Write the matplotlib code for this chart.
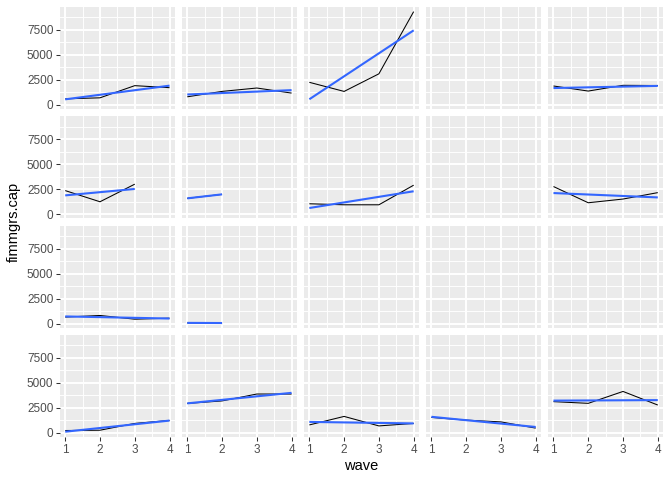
import numpy as np
import matplotlib
matplotlib.use("Agg")
import matplotlib.pyplot as plt
from matplotlib.ticker import FixedLocator

plt.rcParams['font.family'] = ['Liberation Sans', 'DejaVu Sans']

nan = np.nan
waves = [1, 2, 3, 4]

# one named series per facet (row-major, 4 rows x 5 columns); None = empty facet
g01 = [608, 710, 1927, 1724]
g02 = [811, 1352, 1690, 1183]
g03 = [2260, 1350, 3110, 9330]
g04 = None
g05 = [1893, 1386, 1960, 1940]
g06 = [2366, 1250, 3008, nan]
g07 = [1590, 1990, nan, nan]
g08 = [1048, 946, 946, 2907]
g09 = None
g10 = [2772, 1149, 1521, 2163]
g11 = [650, 811, 440, 540]
g12 = [70, 55, nan, nan]
g13 = None
g14 = None
g15 = None
g16 = [240, 270, 950, 1250]
g17 = [2950, 3200, 3890, 3890]
g18 = [800, 1650, 700, 950]
g19 = [1550, 1280, 1100, 480]
g20 = [3128, 2958, 4148, 2788]

panels = [g01, g02, g03, g04, g05, g06, g07, g08, g09, g10,
          g11, g12, g13, g14, g15, g16, g17, g18, g19, g20]

y_ticks = [0, 2500, 5000, 7500]
x_ticks = [1, 2, 3, 4]

W, H = 672, 480
fig = plt.figure(figsize=(W / 100, H / 100), dpi=100)

left, right = 60, 663
top, bottom = 7, 437
gap = 7.33
nrow, ncol = 4, 5
pw = (right - left - gap * (ncol - 1)) / ncol
ph = (bottom - top - gap * (nrow - 1)) / nrow

allvals = np.concatenate([np.array(p, dtype=float) for p in panels if p is not None])
ymin, ymax = np.nanmin(allvals), np.nanmax(allvals)
yr = ymax - ymin
ylim = (ymin - 0.05 * yr, ymax + 0.05 * yr)
xlim = (1 - 0.15, 4 + 0.15)

for i, vals in enumerate(panels):
    r, c = divmod(i, ncol)
    x0 = left + c * (pw + gap)
    y0 = top + r * (ph + gap)
    ax = fig.add_axes([x0 / W, 1 - (y0 + ph) / H, pw / W, ph / H])
    ax.set_facecolor("#EBEBEB")
    for s in ax.spines.values():
        s.set_visible(False)
    ax.set_xlim(*xlim)
    ax.set_ylim(*ylim)
    ax.xaxis.set_major_locator(FixedLocator(x_ticks))
    ax.yaxis.set_major_locator(FixedLocator(y_ticks))
    ax.xaxis.set_minor_locator(FixedLocator([1.5, 2.5, 3.5]))
    ax.yaxis.set_minor_locator(FixedLocator([1250, 3750, 6250, 8750]))
    ax.grid(which="major", color="white", linewidth=1.37)
    ax.grid(which="minor", color="white", linewidth=0.68)
    ax.set_axisbelow(True)
    ax.tick_params(which="minor", length=0)
    ax.tick_params(which="major", length=2.64, width=0.75, color="#333333",
                   labelcolor="#4D4D4D", labelsize=8.45, pad=2.1)
    ax.tick_params(axis="x", bottom=(r == nrow - 1), labelbottom=(r == nrow - 1))
    ax.tick_params(axis="y", left=(c == 0), labelleft=(c == 0))
    if vals is None:
        continue
    x = np.array(waves, dtype=float)
    y = np.array(vals, dtype=float)
    m = ~np.isnan(y)
    ax.plot(x[m], y[m], color="black", linewidth=0.75, solid_capstyle="butt")
    if m.sum() >= 2:
        b1, b0 = np.polyfit(x[m], y[m], 1)
        xs = np.array([x[m].min(), x[m].max()])
        ax.plot(xs, b0 + b1 * xs, color="#3366FF", linewidth=1.5, solid_capstyle="butt")

fig.text((left + right) / 2 / W, 1 - 466 / H, "wave", ha="center", va="center",
         fontsize=10.56, color="black")
fig.text(14 / W, 1 - (top + bottom) / 2 / H, "fimmgrs.cap", ha="center", va="center",
         rotation=90, fontsize=10.56, color="black")

fig.savefig("out.png", dpi=100, facecolor="white")
